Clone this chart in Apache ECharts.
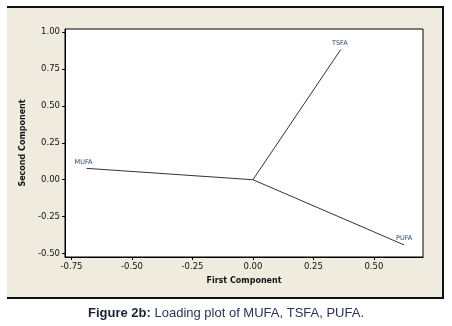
<!DOCTYPE html>
<html>
<head>
<meta charset="UTF-8">
<title>Loading plot</title>
<script src="https://cdn.jsdelivr.net/npm/echarts@6/dist/echarts.min.js"></script>
<style>
  html, body { margin: 0; padding: 0; background: #fff; }
</style>
</head>
<body>
<div id="main" style="width:452px;height:326px"></div>
<script type="text/javascript">
// loadings
var varNames = ['MUFA', 'TSFA', 'PUFA'];
var firstComp = [-0.688, 0.363, 0.625];
var secondComp = [0.077, 0.883, -0.442];
var xTicks = [-0.75, -0.50, -0.25, 0.00, 0.25, 0.50];
var yTicks = [-0.50, -0.25, 0.00, 0.25, 0.50, 0.75, 1.00];

var labelOffsets = { MUFA: [-3, 0], TSFA: [-1, 0], PUFA: [0, 0] };

var myChart = echarts.init(document.getElementById('main'));

// one line per variable, from the origin out to its loading
var series = varNames.map(function (name, i) {
  return {
    name: name,
    type: 'line',
    symbol: 'none',
    silent: true,
    lineStyle: { color: '#333', width: 1 },
    data: [[0, 0], [firstComp[i], secondComp[i]]],
    markPoint: {
      symbol: 'circle',
      symbolSize: 0,
      data: [{ coord: [firstComp[i], secondComp[i]] }],
      label: {
        show: true,
        position: 'top',
        distance: 3,
        offset: labelOffsets[name],
        formatter: name,
        color: '#2d4270',
        fontFamily: 'DejaVu Sans',
        fontSize: 6.5
      }
    }
  };
});

var tickLabel = {
  color: '#111',
  fontFamily: 'DejaVu Sans',
  fontSize: 8.5,
  formatter: function (v) { return v.toFixed(2); }
};

var option = {
  animation: false,
  backgroundColor: '#fff',
  graphic: [
    { type: 'rect', z: -10, shape: { x: 7, y: 7, width: 436, height: 291 }, style: { fill: '#f0ebdf' } },
    { type: 'polyline', z: -9, shape: { points: [[7, 7], [443, 7], [443, 298], [7, 298]] }, style: { stroke: '#111', lineWidth: 2, fill: null } },
    {
      type: 'text', left: 'center', top: 307,
      style: {
        text: '{b|Figure 2b:} Loading plot of MUFA, TSFA, PUFA.',
        fontFamily: 'Liberation Sans',
        fontSize: 13,
        fill: '#263556',
        rich: { b: { fontWeight: 'bold', fontFamily: 'Liberation Sans', fontSize: 13, fill: '#1a2238' } }
      }
    }
  ],
  grid: {
    left: 65, top: 29, width: 358, height: 228,
    show: true, backgroundColor: '#fff', borderColor: '#000', borderWidth: 1
  },
  xAxis: {
    type: 'value',
    min: -0.777, max: 0.703,
    name: 'First Component',
    nameLocation: 'middle',
    nameGap: 20,
    nameTextStyle: { fontFamily: 'DejaVu Sans', fontWeight: 'bold', fontSize: 8, color: '#111' },
    splitLine: { show: false },
    axisLine: { show: true, onZero: false, lineStyle: { color: '#000', width: 1 } },
    axisTick: { show: true, length: 3, lineStyle: { color: '#000' }, customValues: xTicks },
    axisLabel: Object.assign({ margin: 5, customValues: xTicks }, tickLabel)
  },
  yAxis: {
    type: 'value',
    min: -0.524, max: 1.022,
    name: 'Second Component',
    nameLocation: 'middle',
    nameGap: 38,
    nameTextStyle: { fontFamily: 'DejaVu Sans', fontWeight: 'bold', fontSize: 8, color: '#111' },
    splitLine: { show: false },
    axisLine: { show: true, onZero: false, lineStyle: { color: '#000', width: 1 } },
    axisTick: { show: true, length: 3, lineStyle: { color: '#000' }, customValues: yTicks },
    axisLabel: Object.assign({ margin: 5, customValues: yTicks }, tickLabel)
  },
  series: series
};
myChart.setOption(option);
</script>
</body>
</html>
